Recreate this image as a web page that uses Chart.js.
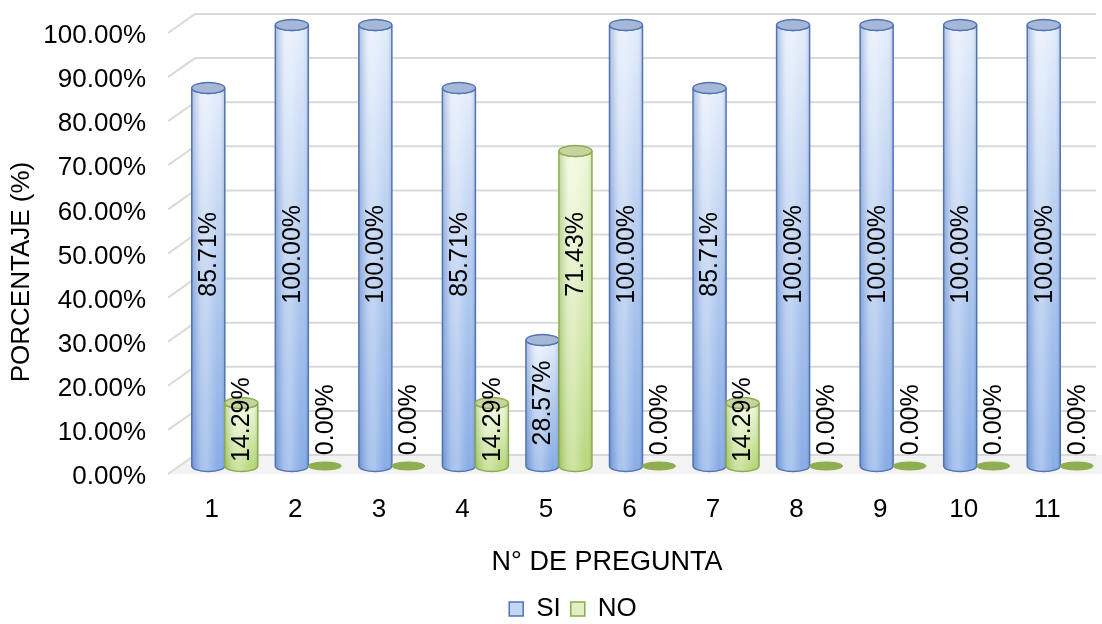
<!DOCTYPE html>
<html lang="es">
<head>
  <meta charset="UTF-8">
  <title>Porcentaje por pregunta</title>
  <script src="https://cdn.jsdelivr.net/npm/chart.js"></script>
  <style>
    html, body { margin: 0; padding: 0; background: #fff; }
    #wrap { width: 1102px; height: 624px; position: relative; }
  </style>
</head>
<body>
  <div id="wrap"><canvas id="grafico"></canvas></div>

  <script>
    const preguntas = ['1', '2', '3', '4', '5', '6', '7', '8', '9', '10', '11'];
    const si = [85.71, 100, 100, 85.71, 28.57, 100, 85.71, 100, 100, 100, 100];
    const no = [14.29, 0, 0, 14.29, 71.43, 0, 14.29, 0, 0, 0, 0];
    const serieNombres = ['SI', 'NO'];

    const FONT = "'Liberation Sans', Arial, sans-serif";

    const paletas = [
      { edge: '#5374b4', cap: '#a6b8d8', top: '#e4edfb', mid: '#b2caef', bottom: '#87ace5', dark: '55,95,170', legend: '#c3d6f3', flat: '#7d9fd6' },
      { edge: '#8aac4c', cap: '#c6d59f', top: '#eff8dc', mid: '#d6eab0', bottom: '#b8d77c', dark: '105,145,45', legend: '#e2efc4', flat: '#8fae50' }
    ];

    // depth of the fake 3D box (wall offset)
    const DEPTH_X = 27, DEPTH_Y = 19;

    function drawCylinder(ctx, x, top, base, w, pal) {
      const rx = w / 2, ry = 5.5;
      if (base - top < 1) {
        ctx.beginPath();
        ctx.ellipse(x, base, rx, 4, 0, 0, Math.PI * 2);
        ctx.fillStyle = pal.flat;
        ctx.fill();
        ctx.lineWidth = 1;
        ctx.strokeStyle = pal.edge;
        ctx.stroke();
        return;
      }
      const body = () => {
        ctx.beginPath();
        ctx.moveTo(x - rx, top);
        ctx.lineTo(x - rx, base);
        ctx.ellipse(x, base, rx, ry, 0, Math.PI, 0, true);
        ctx.lineTo(x + rx, top);
        ctx.ellipse(x, top, rx, ry, 0, 0, Math.PI, false);
        ctx.closePath();
      };
      const vg = ctx.createLinearGradient(0, top, 0, base);
      vg.addColorStop(0, pal.top);
      vg.addColorStop(0.5, pal.mid);
      vg.addColorStop(1, pal.bottom);
      body();
      ctx.fillStyle = vg;
      ctx.fill();

      // side shading for the round look
      const hg = ctx.createLinearGradient(x - rx, 0, x + rx, 0);
      hg.addColorStop(0, 'rgba(' + pal.dark + ',0.32)');
      hg.addColorStop(0.28, 'rgba(255,255,255,0.25)');
      hg.addColorStop(0.45, 'rgba(255,255,255,0.32)');
      hg.addColorStop(0.8, 'rgba(255,255,255,0)');
      hg.addColorStop(1, 'rgba(' + pal.dark + ',0.25)');
      body();
      ctx.fillStyle = hg;
      ctx.fill();
      ctx.lineWidth = 1.5;
      ctx.strokeStyle = pal.edge;
      ctx.stroke();

      ctx.beginPath();
      ctx.ellipse(x, top, rx, ry, 0, 0, Math.PI * 2);
      ctx.fillStyle = pal.cap;
      ctx.fill();
      ctx.stroke();
    }

    const paredes = {
      id: 'paredes',
      beforeDatasetsDraw(chart) {
        const { ctx, chartArea, scales } = chart;
        const y = scales.y;
        const x0 = chartArea.left - 15;
        const xb = x0 + DEPTH_X;
        const xr = chartArea.right - 6;
        ctx.save();
        // floor
        const yb0 = y.getPixelForValue(0) - 11;
        ctx.beginPath();
        ctx.moveTo(x0, yb0 + DEPTH_Y);
        ctx.lineTo(xb, yb0);
        ctx.lineTo(chartArea.right, yb0);
        ctx.lineTo(chartArea.right, yb0 + DEPTH_Y);
        ctx.closePath();
        ctx.fillStyle = '#f3f3f3';
        ctx.fill();
        ctx.lineWidth = 2;
        ctx.strokeStyle = '#d9d9d9';
        for (let v = 0; v <= 100; v += 10) {
          const yb = y.getPixelForValue(v) - 11;
          ctx.beginPath();
          ctx.moveTo(x0, yb + DEPTH_Y);
          ctx.lineTo(xb, yb);
          ctx.lineTo(xr, yb);
          ctx.stroke();
        }
        ctx.restore();
      }
    };

    const cilindros = {
      id: 'cilindros',
      afterDatasetsDraw(chart) {
        const { ctx, scales } = chart;
        const y = scales.y;
        ctx.save();
        chart.data.datasets.forEach((ds, i) => {
          const meta = chart.getDatasetMeta(i);
          meta.data.forEach(bar => {
            const p = bar.getProps(['x', 'y', 'base', 'width'], true);
            drawCylinder(ctx, p.x, p.y, p.base, p.width, paletas[i]);
          });
        });
        // rotated value labels
        ctx.fillStyle = '#000';
        ctx.font = '25px ' + FONT;
        ctx.textAlign = 'center';
        ctx.textBaseline = 'middle';
        chart.data.datasets.forEach((ds, i) => {
          const meta = chart.getDatasetMeta(i);
          meta.data.forEach((bar, j) => {
            const v = ds.data[j];
            const c = v >= 50 ? 48 : Math.max(v / 2, 10.5);
            ctx.save();
            ctx.translate(bar.x, y.getPixelForValue(c));
            ctx.rotate(-Math.PI / 2);
            ctx.fillText(v.toFixed(2) + '%', 0, 1);
            ctx.restore();
          });
        });
        // axis titles
        ctx.font = '26px ' + FONT;
        ctx.save();
        ctx.translate(22, 272);
        ctx.rotate(-Math.PI / 2);
        ctx.fillText('PORCENTAJE (%)', 0, 0);
        ctx.restore();
        ctx.font = '27px ' + FONT;
        ctx.fillText('N° DE PREGUNTA', 607, 563);
        ctx.restore();
      }
    };

    new Chart(document.getElementById('grafico'), {
      type: 'bar',
      data: {
        labels: preguntas,
        datasets: [
          { label: serieNombres[0], data: si, backgroundColor: 'rgba(0,0,0,0)', borderWidth: 0 },
          { label: serieNombres[1], data: no, backgroundColor: 'rgba(0,0,0,0)', borderWidth: 0 }
        ]
      },
      options: {
        responsive: true,
        maintainAspectRatio: false,
        animation: false,
        layout: { padding: { top: 25, left: 44, right: 0, bottom: -8 } },
        datasets: { bar: { categoryPercentage: 0.79, barPercentage: 1 } },
        plugins: {
          tooltip: { enabled: false },
          legend: {
            position: 'bottom',
            labels: {
              font: { family: FONT, size: 26 },
              color: '#000',
              boxWidth: 14,
              boxHeight: 14,
              padding: 10,
              generateLabels(chart) {
                return chart.data.datasets.map((ds, i) => ({
                  text: ds.label,
                  fillStyle: paletas[i].legend,
                  strokeStyle: paletas[i].edge,
                  lineWidth: 1.5,
                  fontColor: '#000',
                  datasetIndex: i
                }));
              }
            }
          }
        },
        scales: {
          x: {
            grid: { display: false, drawTicks: false },
            border: { display: false },
            ticks: { font: { family: FONT, size: 26 }, color: '#000', padding: 28, labelOffset: -13 },
            afterFit(s) {
              s.height = 120;
              s.paddingLeft = 0;
              s.paddingRight = 0;
            }
          },
          y: {
            min: 0,
            max: 100,
            grid: { display: false, drawTicks: false },
            border: { display: false },
            ticks: {
              stepSize: 10,
              font: { family: FONT, size: 26 },
              color: '#000',
              padding: 37,
              labelOffset: 11,
              callback: v => v.toFixed(2) + '%'
            },
            afterFit(s) {
              s.width = 139;
              s.paddingTop = 0;
              s.paddingBottom = 0;
            }
          }
        }
      },
      plugins: [paredes, cilindros]
    });
  </script>
</body>
</html>
